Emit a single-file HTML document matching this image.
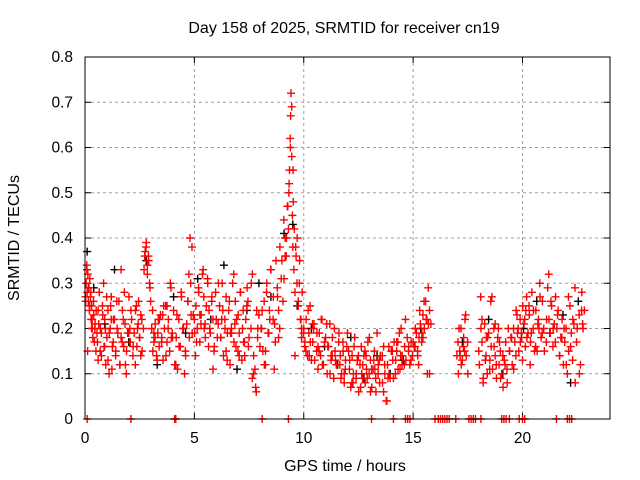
<!DOCTYPE html>
<html><head><meta charset="utf-8"><style>
body{margin:0;background:#fff;}
svg{display:block;font-family:"Liberation Sans",sans-serif;}
</style></head><body>
<svg id="chart" width="640" height="480"></svg>
<script>
const xTicks=[0,5,10,15,20];
const yTicks=[0,0.1,0.2,0.3,0.4,0.5,0.6,0.7,0.8];
const yTickLabels=["0","0.1","0.2","0.3","0.4","0.5","0.6","0.7","0.8"];
const redT=[0.02,0.05,0.08,0.1,0.13,0.15,0.18,0.2,0.22,0.25,0.28,0.3,0.33,0.36,0.4,0.43,0.46,0.5,0.55,0.6,0.65,0.7,0.75,0.8,0.85,0.9,0.95,1.0,1.05,1.1,1.15,1.2,1.25,1.3,1.4,1.5,1.55,1.6,1.7,1.75,1.8,1.9,2.0,2.1,2.2,2.3,2.4,2.45,2.5,2.6,2.7,2.75,2.8,2.85,2.9,2.95,3.0,3.05,3.1,3.2,3.3,3.4,3.5,3.6,3.7,3.8,3.9,4.0,4.1,4.2,4.3,4.4,4.5,4.6,4.7,4.75,4.8,4.85,4.9,5.0,5.1,5.2,5.3,5.4,5.5,5.55,5.6,5.7,5.8,5.9,6.0,6.1,6.2,6.3,6.4,6.5,6.6,6.7,6.8,6.9,7.0,7.1,7.2,7.3,7.4,7.5,7.6,7.7,7.8,7.9,8.0,8.1,8.2,8.3,8.4,8.5,8.6,8.7,8.8,8.9,9.0,9.05,9.1,9.15,9.2,9.25,9.3,9.32,9.35,9.38,9.4,9.42,9.45,9.48,9.5,9.52,9.55,9.6,9.65,9.7,9.75,9.8,9.85,9.9,10.0,10.1,10.2,10.3,10.4,10.5,10.6,10.7,10.8,10.9,11.0,11.1,11.2,11.3,11.4,11.5,11.6,11.7,11.8,11.9,12.0,12.1,12.2,12.3,12.4,12.5,12.6,12.7,12.8,12.9,13.0,13.1,13.2,13.3,13.4,13.5,13.6,13.7,13.8,13.9,14.0,14.1,14.2,14.3,14.4,14.5,14.6,14.8,14.9,15.0,15.1,15.2,15.3,15.4,15.5,15.6,15.7,15.75,17.0,17.05,17.1,17.2,17.3,17.4,17.5,18.0,18.1,18.2,18.3,18.4,18.5,18.6,18.7,18.8,18.9,19.0,19.1,19.2,19.3,19.4,19.5,19.6,19.7,19.8,19.9,20.0,20.1,20.2,20.3,20.4,20.5,20.6,20.7,20.8,20.9,21.0,21.1,21.2,21.3,21.4,21.5,21.6,21.7,21.8,21.9,22.0,22.1,22.2,22.3,22.4,22.5,22.6,22.7,22.75,0.12,0.3,0.6,0.9,1.2,1.45,1.65,1.85,2.05,2.35,2.55,3.15,3.35,3.55,3.75,3.95,4.15,4.35,4.55,5.05,5.25,5.45,5.65,5.85,6.05,6.25,6.45,6.65,6.85,7.05,7.25,7.45,7.65,7.85,8.05,8.25,8.45,8.65,8.85,9.6,9.9,10.05,10.25,10.45,10.65,10.85,11.05,11.25,11.45,11.65,11.85,12.05,12.25,12.45,12.65,12.85,13.05,13.25,13.45,13.65,13.85,14.05,14.25,14.45,14.65,15.05,15.25,15.45,15.65,17.15,17.35,18.15,18.35,18.55,18.75,18.95,19.75,19.95,20.15,20.35,20.55,20.75,20.95,21.15,21.35,21.55,21.75,22.05,22.25,22.45,22.65];
const redV=[0.27,0.3,0.34,0.28,0.32,0.26,0.29,0.24,0.31,0.27,0.22,0.25,0.2,0.18,0.23,0.17,0.21,0.15,0.19,0.24,0.28,0.2,0.14,0.25,0.3,0.22,0.12,0.18,0.24,0.1,0.2,0.27,0.16,0.22,0.14,0.19,0.26,0.12,0.17,0.22,0.28,0.15,0.19,0.24,0.16,0.12,0.2,0.26,0.18,0.22,0.33,0.37,0.39,0.34,0.36,0.3,0.26,0.2,0.15,0.18,0.13,0.22,0.17,0.25,0.14,0.2,0.3,0.18,0.12,0.23,0.16,0.28,0.2,0.14,0.26,0.32,0.4,0.23,0.19,0.22,0.17,0.28,0.21,0.33,0.18,0.25,0.31,0.2,0.27,0.15,0.22,0.3,0.18,0.24,0.2,0.13,0.26,0.19,0.32,0.16,0.23,0.28,0.2,0.14,0.25,0.18,0.3,0.1,0.07,0.2,0.16,0.24,0.12,0.28,0.19,0.33,0.22,0.17,0.27,0.2,0.35,0.26,0.31,0.4,0.36,0.47,0.42,0.5,0.55,0.62,0.67,0.72,0.58,0.45,0.38,0.48,0.33,0.28,0.36,0.4,0.25,0.3,0.22,0.18,0.2,0.15,0.24,0.17,0.21,0.13,0.19,0.15,0.22,0.12,0.18,0.16,0.1,0.14,0.2,0.12,0.17,0.09,0.15,0.11,0.19,0.13,0.08,0.16,0.1,0.14,0.07,0.12,0.15,0.09,0.18,0.11,0.13,0.06,0.1,0.14,0.08,0.12,0.04,0.1,0.15,0.09,0.13,0.17,0.11,0.14,0.12,0.16,0.13,0.17,0.2,0.15,0.24,0.19,0.26,0.22,0.21,0.1,0.14,0.17,0.2,0.12,0.16,0.23,0.1,0.15,0.2,0.08,0.13,0.18,0.11,0.27,0.16,0.12,0.2,0.09,0.14,0.12,0.08,0.15,0.18,0.11,0.14,0.2,0.17,0.13,0.22,0.18,0.25,0.19,0.24,0.16,0.21,0.27,0.19,0.15,0.22,0.32,0.26,0.2,0.17,0.23,0.14,0.18,0.2,0.12,0.27,0.16,0.22,0.29,0.2,0.1,0.24,0.21,0.15,0.2,0.13,0.16,0.22,0.26,0.33,0.12,0.2,0.25,0.14,0.19,0.22,0.23,0.25,0.18,0.12,0.16,0.1,0.14,0.23,0.2,0.16,0.11,0.18,0.22,0.15,0.19,0.21,0.14,0.17,0.26,0.32,0.24,0.2,0.15,0.22,0.11,0.18,0.14,0.2,0.17,0.14,0.2,0.16,0.12,0.21,0.14,0.13,0.12,0.1,0.15,0.08,0.13,0.1,0.14,0.06,0.11,0.13,0.16,0.09,0.15,0.17,0.2,0.22,0.16,0.12,0.18,0.1,0.14,0.15,0.22,0.18,0.26,0.21,0.17,0.23,0.19,0.24,0.12,0.15,0.2];
const passStep=0.06;
const passStart=[0.0,0.54,1.02,1.56,2.04,2.52,3.06,3.54,4.02,4.56,5.04,5.58,6.06,6.54,7.02,7.56,8.04,8.58,9.06,9.54,10.02,10.56,11.04,11.58,12.06,12.54,13.02,13.56,14.04,14.58,15.06,15.54,17.04,18.0,18.54,19.02,19.56,20.04,20.58,21.06,21.54,22.02,22.56];
const passVals=[
[0.26,0.33,0.29,0.25,0.28,0.22,0.26,0.2,0.24],
[0.17,0.21,0.15,0.19,0.23,0.16,0.2,0.27],
[0.13,0.19,0.25,0.11,0.17,0.22,0.15,0.2],
[0.12,0.18,0.24,0.16,0.21,0.1,0.19,0.27],
[0.17,0.22,0.14,0.19,0.24,0.16,0.21,0.18],
[0.23,0.15,0.2,0.36,0.38,0.32,0.35,0.29],
[0.24,0.17,0.21,0.14,0.19,0.16,0.23,0.18],
[0.13,0.2,0.25,0.17,0.22,0.15,0.29,0.19],
[0.24,0.12,0.18,0.11,0.22,0.16,0.27,0.2],
[0.15,0.21,0.26,0.18,0.3,0.38,0.23,0.19],
[0.25,0.2,0.29,0.17,0.23,0.32,0.27,0.21],
[0.3,0.24,0.19,0.26,0.22,0.16,0.28],
[0.21,0.25,0.18,0.3,0.14,0.22,0.27,0.19],
[0.24,0.12,0.2,0.3,0.17,0.26,0.22,0.15],
[0.19,0.28,0.13,0.24,0.17,0.22,0.29,0.16],
[0.2,0.09,0.14,0.11,0.06,0.18,0.23],
[0.2,0.15,0.26,0.12,0.3,0.19,0.24,0.33],
[0.27,0.21,0.35,0.29,0.24,0.38,0.31],
[0.44,0.36,0.4,0.47,0.52,0.6,0.69,0.55],
[0.42,0.38,0.3,0.26,0.35,0.22,0.28,0.19],
[0.16,0.22,0.14,0.19,0.25,0.13,0.17,0.21],
[0.15,0.11,0.19,0.14,0.22,0.12,0.17],
[0.1,0.16,0.21,0.13,0.18,0.09,0.15,0.12],
[0.19,0.14,0.1,0.17,0.08,0.13,0.16],
[0.11,0.07,0.14,0.1,0.18,0.09,0.13,0.06],
[0.12,0.16,0.09,0.14,0.08,0.11,0.17,0.1],
[0.13,0.07,0.11,0.15,0.09,0.19,0.12,0.08],
[0.14,0.06,0.1,0.04,0.12,0.16,0.09],
[0.13,0.17,0.1,0.15,0.11,0.19,0.14,0.12],
[0.16,0.13,0.18,0.15,0.12,0.17,0.14],
[0.16,0.19,0.14,0.18,0.21,0.17,0.23,0.2],
[0.26,0.22,0.29,0.24,0.21],
[0.1,0.15,0.2,0.13,0.18,0.22,0.14,0.17],
[0.12,0.27,0.17,0.09,0.21,0.14,0.1,0.19,0.13],
[0.16,0.11,0.2,0.14,0.09,0.18,0.12,0.15],
[0.1,0.07,0.13,0.17,0.11,0.2,0.15,0.18,0.12],
[0.2,0.17,0.24,0.19,0.15,0.22,0.18,0.25],
[0.21,0.16,0.27,0.19,0.23,0.17,0.28,0.2],
[0.24,0.15,0.22,0.3,0.18,0.26,0.2],
[0.17,0.29,0.22,0.19,0.25,0.16,0.21,0.27],
[0.2,0.24,0.14,0.18,0.22,0.12,0.17,0.2],
[0.1,0.15,0.25,0.19,0.13,0.21,0.08,0.17],
[0.23,0.12,0.28,0.2,0.24]
];
const blackT=[0.1,0.4,0.9,1.35,2.0,2.8,3.3,4.05,4.6,5.15,5.75,6.35,6.95,7.4,7.95,8.5,9.1,9.5,9.7,10.35,10.95,11.55,12.15,12.75,13.35,13.95,14.55,15.35,17.25,18.45,19.1,20.05,20.65,21.25,21.85,22.2,22.55];
const blackV=[0.37,0.29,0.21,0.33,0.17,0.35,0.12,0.27,0.19,0.31,0.22,0.34,0.11,0.24,0.3,0.27,0.41,0.43,0.25,0.2,0.16,0.12,0.18,0.09,0.14,0.1,0.13,0.2,0.17,0.22,0.1,0.2,0.26,0.19,0.23,0.08,0.26];
const zeroT=[0.1,2.1,4.1,4.15,8.1,9.3,13.1,14.1,14.65,14.75,14.85,16.0,16.15,16.25,16.35,16.45,16.55,16.65,16.95,17.55,17.65,17.75,17.85,18.1,19.05,19.15,19.25,19.4,19.85,20.0,20.1,21.55,22.05,22.15,22.25];

const svg=document.getElementById('chart');
const NS='http://www.w3.org/2000/svg';
const X0=85,X1=610,Y0=419,Y1=57;
function xs(t){return X0+(t/24)*(X1-X0);}
function ys(v){return Y0-(v/0.8)*(Y0-Y1);}
function mk(tag,attrs){const e=document.createElementNS(NS,tag);for(const k in attrs)e.setAttribute(k,attrs[k]);svg.appendChild(e);return e;}

let e;
yTicks.forEach((v,i)=>{
  if(i>0&&i<yTicks.length-1){
    e=mk('line',{x1:X0,x2:X1,y1:ys(v),y2:ys(v),stroke:'#a0a0a0','stroke-dasharray':'3,3','stroke-width':1});
    
    
  }
  e=mk('line',{x1:X0,x2:X0+6,y1:ys(v),y2:ys(v),stroke:'#000'});
  
  
  e=mk('line',{x1:X1-6,x2:X1,y1:ys(v),y2:ys(v),stroke:'#000'});
  
  
  e=mk('text',{x:X0-12,y:ys(v)+5,'text-anchor':'end','font-size':15.5,fill:'#000'});
  e.textContent=yTickLabels[i];
  
  
});
xTicks.forEach(t=>{
  if(t>0){
    e=mk('line',{x1:xs(t),x2:xs(t),y1:Y1,y2:Y0,stroke:'#a0a0a0','stroke-dasharray':'3,3','stroke-width':1});
    
    
  }
  e=mk('line',{x1:xs(t),x2:xs(t),y1:Y0,y2:Y0-6,stroke:'#000'});
  
  
  e=mk('line',{x1:xs(t),x2:xs(t),y1:Y1,y2:Y1+6,stroke:'#000'});
  
  
  e=mk('text',{x:xs(t),y:Y0+24,'text-anchor':'middle','font-size':15.5,fill:'#000'});
  e.textContent=String(t);
  
  
});
function plus(t,v,c,name){
  const x=xs(t),y=ys(v);
  e=mk('path',{d:`M${x-4},${y}H${x+4}M${x},${y-4}V${y+4}`,stroke:c,'stroke-width':1.4,fill:'none'});
  
  
}
blackT.forEach((t,i)=>plus(t,blackV[i],'#000','black-point'));
passStart.forEach((s,p)=>{
  passVals[p].forEach((v,k)=>plus(s+k*passStep+0.03,v,'#ff0000','red-pass-point'));
});
redT.forEach((t,i)=>plus(t,redV[i],'#ff0000','red-point'));
zeroT.forEach(t=>plus(t,0,'#ff0000','zero-point'));
e=mk('rect',{x:X0,y:Y1,width:X1-X0,height:Y0-Y1,fill:'none',stroke:'#000','stroke-width':1});


e=mk('text',{x:344,y:33,'text-anchor':'middle','font-size':16,fill:'#000'});
e.textContent='Day 158 of 2025, SRMTID for receiver cn19';


e=mk('text',{x:345,y:471,'text-anchor':'middle','font-size':16,fill:'#000'});
e.textContent='GPS time / hours';


e=mk('text',{x:0,y:0,'text-anchor':'middle','font-size':16,fill:'#000',transform:'translate(19,238) rotate(-90)'});
e.textContent='SRMTID / TECUs';


</script>
</body></html>
